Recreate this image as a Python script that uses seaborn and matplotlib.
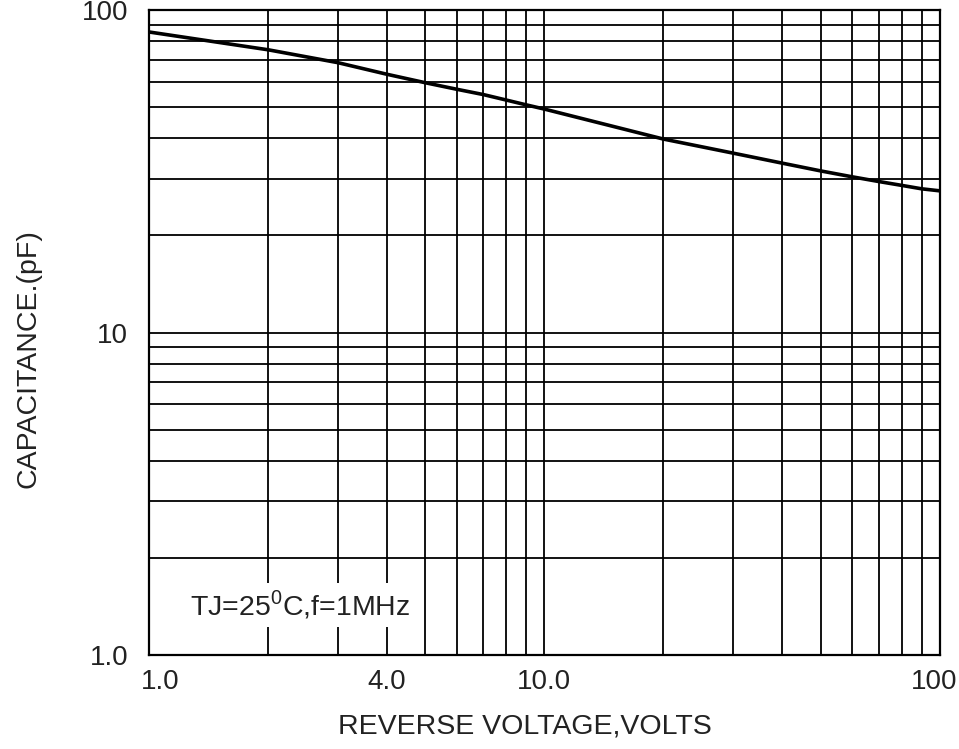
import matplotlib
matplotlib.use("Agg")
import matplotlib.pyplot as plt
import matplotlib.transforms as mtransforms
from matplotlib.ticker import FixedLocator, LogLocator, NullFormatter
import seaborn as sns
import pandas as pd

# reverse voltage (V) and junction capacitance (pF)
voltage = [1, 2, 3, 4, 5, 6, 7, 8, 9, 10, 20, 30, 40, 50, 60, 70, 80, 90, 100]
capacitance = [85.5, 75.3, 68.7, 63.2, 59.5, 56.8, 54.7, 52.6, 50.8, 49.3,
               39.8, 36.0, 33.5, 31.7, 30.4, 29.4, 28.6, 27.9, 27.5]

x_ticks = [1, 4, 10, 100]
x_tick_labels = ["1.0", "4.0", "10.0", "100"]
y_ticks = [1, 10, 100]
y_tick_labels = ["1.0", "10", "100"]
grid_values = [1, 2, 3, 4, 5, 6, 7, 8, 9, 10, 20, 30, 40, 50, 60, 70, 80, 90, 100]

df = pd.DataFrame({"voltage": voltage, "capacitance": capacitance})

sns.set_style("white")
plt.rcParams['font.family'] = ['Liberation Sans', 'DejaVu Sans']

fig = plt.figure(figsize=(9.59, 7.49), dpi=100)
ax = fig.add_axes([0.1554, 0.1255, 0.8246, 0.8611])

sns.lineplot(data=df, x="voltage", y="capacitance", ax=ax,
             color="black", linewidth=2.6, zorder=5)

ax.set_xscale("log")
ax.set_yscale("log")
ax.set_xlim(1, 100)
ax.set_ylim(1, 100)

ax.xaxis.set_major_locator(FixedLocator(x_ticks))
ax.set_xticklabels(x_tick_labels)
ax.yaxis.set_major_locator(FixedLocator(y_ticks))
ax.set_yticklabels(y_tick_labels)
for axis in (ax.xaxis, ax.yaxis):
    axis.set_minor_locator(LogLocator(base=10, subs=range(2, 10)))
    axis.set_minor_formatter(NullFormatter())

# full log grid, every line the same weight
ax.grid(False)
for v in grid_values:
    ax.axvline(v, color="black", linewidth=1.3, zorder=1)
    ax.axhline(v, color="black", linewidth=1.3, zorder=1)

ax.tick_params(axis="both", which="both", length=0, labelsize=20,
               labelcolor="#222222")
ax.tick_params(axis="x", pad=10)
ax.tick_params(axis="y", pad=15)

# nudge the end labels of the x axis inwards like the original sheet
xl = ax.get_xticklabels()
xl[0].set_transform(xl[0].get_transform() +
                    mtransforms.ScaledTranslation(8 / 72, 0, fig.dpi_scale_trans))
xl[-1].set_transform(xl[-1].get_transform() +
                     mtransforms.ScaledTranslation(-4 / 72, 0, fig.dpi_scale_trans))

for s in ax.spines.values():
    s.set_color("black")
    s.set_linewidth(1.6)

ax.set_xlabel("REVERSE VOLTAGE,VOLTS", fontsize=20.5, color="#222222", labelpad=12)
ax.xaxis.set_label_coords(0.475, -0.09)
ax.set_ylabel("CAPACITANCE.(pF)", fontsize=20.5, color="#222222", labelpad=30)
ax.yaxis.set_label_coords(-0.136, 0.46)

ax.text(0.052, 0.078, "TJ=25$^{\\mathregular{0}}$C,f=1MHz", transform=ax.transAxes,
        fontsize=20.5, color="#222222", va="center", ha="left", zorder=4,
        bbox=dict(facecolor="white", edgecolor="none", pad=4))

fig.savefig("out.png", dpi=100)
